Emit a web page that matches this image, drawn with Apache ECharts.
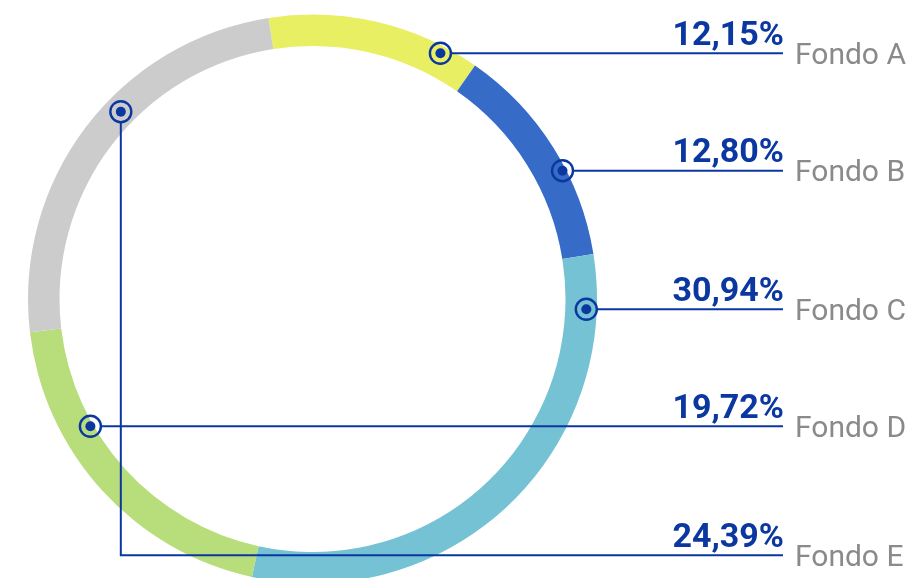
<!DOCTYPE html>
<html>
<head>
<meta charset="utf-8">
<script src="https://cdn.jsdelivr.net/npm/echarts@6/dist/echarts.min.js"></script>
<style>
  html, body { margin: 0; padding: 0; background: #fff; }
  #chart { width: 909px; height: 578px; }
</style>
</head>
<body>
<div id="chart"></div>
<script>
// datos
const funds = ['Fondo A', 'Fondo B', 'Fondo C', 'Fondo D', 'Fondo E']
const shares = [12.15, 12.80, 30.94, 19.72, 24.39]
const colors = ['#e9ef63', '#366cc8', '#74c2d4', '#b8dd7b', '#cccccc']

// layout del anillo y de las etiquetas
const cx = 312.5
const cy = 299
const rIn = 253
const rOut = 284.5
const rowY = [53.3, 170.7, 309.3, 426.3, 555.3] // linea de cada etiqueta
const markY = [53.3, 170.7, 309.3, 426.3, 111.7] // altura del marcador
const markR = [277, 281, 274, 256, 268]
const markSide = [1, 1, 1, -1, -1]
const lineEnd = 783
const navy = '#0b37a0'

function fmt (v) {
  return v.toFixed(2).replace('.', ',') + '%'
}

let graphics = []
for (let i = 0; i < funds.length; i++) {
  let my = markY[i]
  let mx = cx + markSide[i] * Math.sqrt(markR[i] * markR[i] - (my - cy) * (my - cy))
  let pts
  if (my === rowY[i]) {
    pts = [[mx + 10, rowY[i]], [lineEnd, rowY[i]]]
  } else {
    pts = [[mx, my + 10], [mx, rowY[i]], [lineEnd, rowY[i]]]
  }
  graphics.push({
    type: 'polyline',
    silent: true,
    z: 100,
    shape: { points: pts },
    style: { stroke: navy, lineWidth: 2, fill: null }
  })
  graphics.push({
    type: 'circle',
    silent: true,
    z: 100,
    shape: { cx: mx, cy: my, r: 10.5 },
    style: { stroke: navy, lineWidth: 2.4, fill: null }
  })
  graphics.push({
    type: 'circle',
    silent: true,
    z: 100,
    shape: { cx: mx, cy: my, r: 5 },
    style: { fill: navy }
  })
  graphics.push({
    type: 'text',
    silent: true,
    z: 100,
    x: lineEnd + 1,
    y: rowY[i] - 17,
    style: {
      text: fmt(shares[i]),
      fill: navy,
      font: 'bold 34px Roboto',
      align: 'right',
      verticalAlign: 'middle'
    }
  })
  graphics.push({
    type: 'text',
    silent: true,
    z: 100,
    x: 795,
    y: rowY[i] + 3,
    style: {
      text: funds[i],
      fill: '#8a8a8a',
      font: '30px Roboto',
      align: 'left',
      verticalAlign: 'middle'
    }
  })
}

let pieData = funds.map((name, i) => ({
  name: name,
  value: shares[i],
  itemStyle: { color: colors[i] }
}))

const myChart = echarts.init(document.getElementById('chart'))
myChart.setOption({
  animation: false,
  series: [{
    type: 'pie',
    center: [cx, cy],
    radius: [rIn, rOut],
    startAngle: 98.9,
    clockwise: true,
    silent: true,
    z: 1,
    label: { show: false },
    labelLine: { show: false },
    itemStyle: { borderWidth: 0 },
    data: pieData
  }],
  graphic: graphics
})
</script>
</body>
</html>
